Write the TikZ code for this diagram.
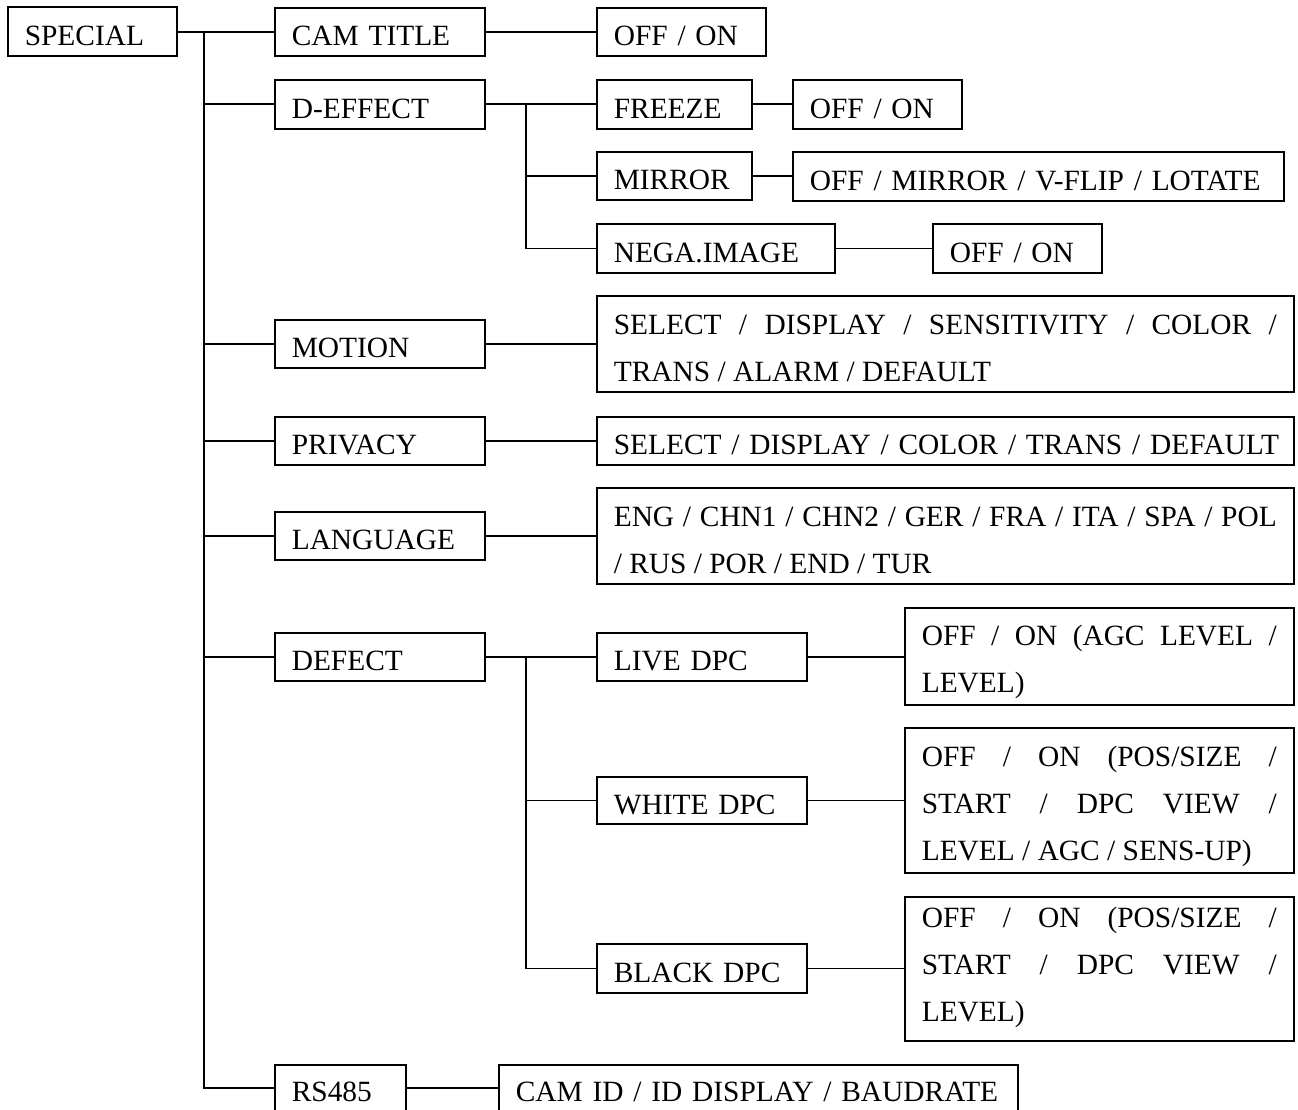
\documentclass[tikz,border=0pt]{standalone}
\usepackage{fontspec}
\setmainfont{Liberation Serif}
\newcommand{\menufont}{\fontsize{29.4}{47}\selectfont}
\tolerance=10000
\hbadness=10000
\hfuzz=30pt
\tikzset{
  % Caselle del menu
  menubox/.style={draw,line width=1.6pt,anchor=north west,inner xsep=17pt,inner ysep=1pt,
    font=\menufont,align=left,text height=36pt,text depth=8pt},
  multibox/.style={menubox,align=justify},
  % Collegamenti
  link/.style={line width=1.6pt}
}

\begin{document}
\begin{tikzpicture}[x=1pt,y=-1pt]
  \useasboundingbox (0,0) rectangle (1298,1110);
  % Radice
  \node[menubox,text width=135pt,minimum height=49pt] (special) at (7,6.5) {SPECIAL};
  % Primo livello
  \node[menubox,text width=176pt,minimum height=48pt] (camtitle) at (274,7) {CAM TITLE};
  \node[menubox,text width=176pt,minimum height=49pt] (deffect) at (274,79) {D-EFFECT};
  \node[menubox,text width=176pt,minimum height=48pt] (motion) at (274,319) {MOTION};
  \node[menubox,text width=176pt,minimum height=48pt] (privacy) at (274,416) {PRIVACY};
  \node[menubox,text width=176pt,minimum height=48pt] (language) at (274,511) {LANGUAGE};
  \node[menubox,text width=176pt,minimum height=48pt] (defect) at (274,632) {DEFECT};
  \node[menubox,text width=97pt,minimum height=46pt] (rs485) at (274,1064) {RS485};
  % Opzioni del primo livello
  \node[menubox,text width=135pt,minimum height=48pt] (camon) at (596,7) {OFF / ON};
  \node[multibox,text width=663pt,minimum height=96pt,text height=34pt,text depth=53pt]
    (motionopt) at (596,295) {SELECT / DISPLAY / SENSITIVITY / COLOR /\linebreak TRANS / ALARM / DEFAULT};
  \node[menubox,text width=663pt,minimum height=48pt] (privacyopt) at (596,416)
    {\mbox{SELECT / DISPLAY / COLOR / TRANS / DEFAULT}};
  \node[multibox,text width=663pt,minimum height=96pt,text height=34pt,text depth=53pt]
    (languageopt) at (596,487) {ENG / CHN1 / CHN2 / GER / FRA / ITA / SPA / POL\linebreak / RUS / POR / END / TUR};
  \node[menubox,text width=485pt,minimum height=46pt] (rs485opt) at (498,1064)
    {\mbox{CAM ID / ID DISPLAY / BAUDRATE}};
  % Sottomenu D-EFFECT
  \node[menubox,text width=121pt,minimum height=49pt] (freeze) at (596,79) {FREEZE};
  \node[menubox,text width=135pt,minimum height=49pt] (freezeon) at (792,79) {OFF / ON};
  \node[menubox,text width=121pt,minimum height=48pt] (mirror) at (596,151) {\mbox{MIRROR}};
  \node[menubox,text width=457pt,minimum height=49pt] (mirroropt) at (792,151)
    {\mbox{OFF / MIRROR / V-FLIP / LOTATE}};
  \node[menubox,text width=204pt,minimum height=49pt] (nega) at (596,223) {NEGA.IMAGE};
  \node[menubox,text width=135pt,minimum height=49pt] (negaon) at (932,223) {OFF / ON};
  % Sottomenu DEFECT
  \node[menubox,text width=176pt,minimum height=48pt] (live) at (596,632) {LIVE DPC};
  \node[multibox,text width=355pt,minimum height=97pt,text height=32pt,text depth=53pt]
    (liveopt) at (904,607) {OFF / ON (AGC LEVEL /\linebreak LEVEL)};
  \node[menubox,text width=176pt,minimum height=47pt] (white) at (596,776) {WHITE DPC};
  \node[multibox,text width=355pt,minimum height=145pt,text height=33pt,text depth=100pt]
    (whiteopt) at (904,727) {OFF / ON (POS/SIZE /\linebreak START / DPC VIEW /\linebreak LEVEL / AGC / SENS-UP)};
  \node[menubox,text width=176pt,minimum height=49pt] (black) at (596,943) {BLACK DPC};
  \node[multibox,text width=355pt,minimum height=144pt,text height=18pt,text depth=100pt]
    (blackopt) at (904,896) {OFF / ON (POS/SIZE /\linebreak START / DPC VIEW /\linebreak LEVEL)};
  % Tronco principale
  \coordinate (trunk) at (204,31);
  \draw[link] (special.east) -- (special.east -| trunk);
  \draw[link] (trunk) |- (rs485.west);
  \foreach \n in {camtitle,deffect,motion,privacy,language,defect}
    \draw[link] (trunk |- \n.west) -- (\n.west);
  % Tronchi secondari
  \coordinate (dtrunk) at (526,103.5);
  \draw[link] (deffect.east) -- (freeze.west);
  \draw[link] (dtrunk) |- (nega.west);
  \draw[link] (dtrunk |- mirror.west) -- (mirror.west);
  \coordinate (ttrunk) at (526,656);
  \draw[link] (defect.east) -- (live.west);
  \draw[link] (ttrunk) |- (black.west);
  \draw[link] (ttrunk |- white.west) -- (white.west);
  % Collegamenti alle opzioni
  \foreach \a/\b in {camtitle/camon,motion/motionopt,privacy/privacyopt,language/languageopt,
      rs485/rs485opt,freeze/freezeon,mirror/mirroropt,nega/negaon,live/liveopt,white/whiteopt,black/blackopt}
    \draw[link] (\a.east) -- (\a.east -| \b.west);
\end{tikzpicture}
\end{document}
